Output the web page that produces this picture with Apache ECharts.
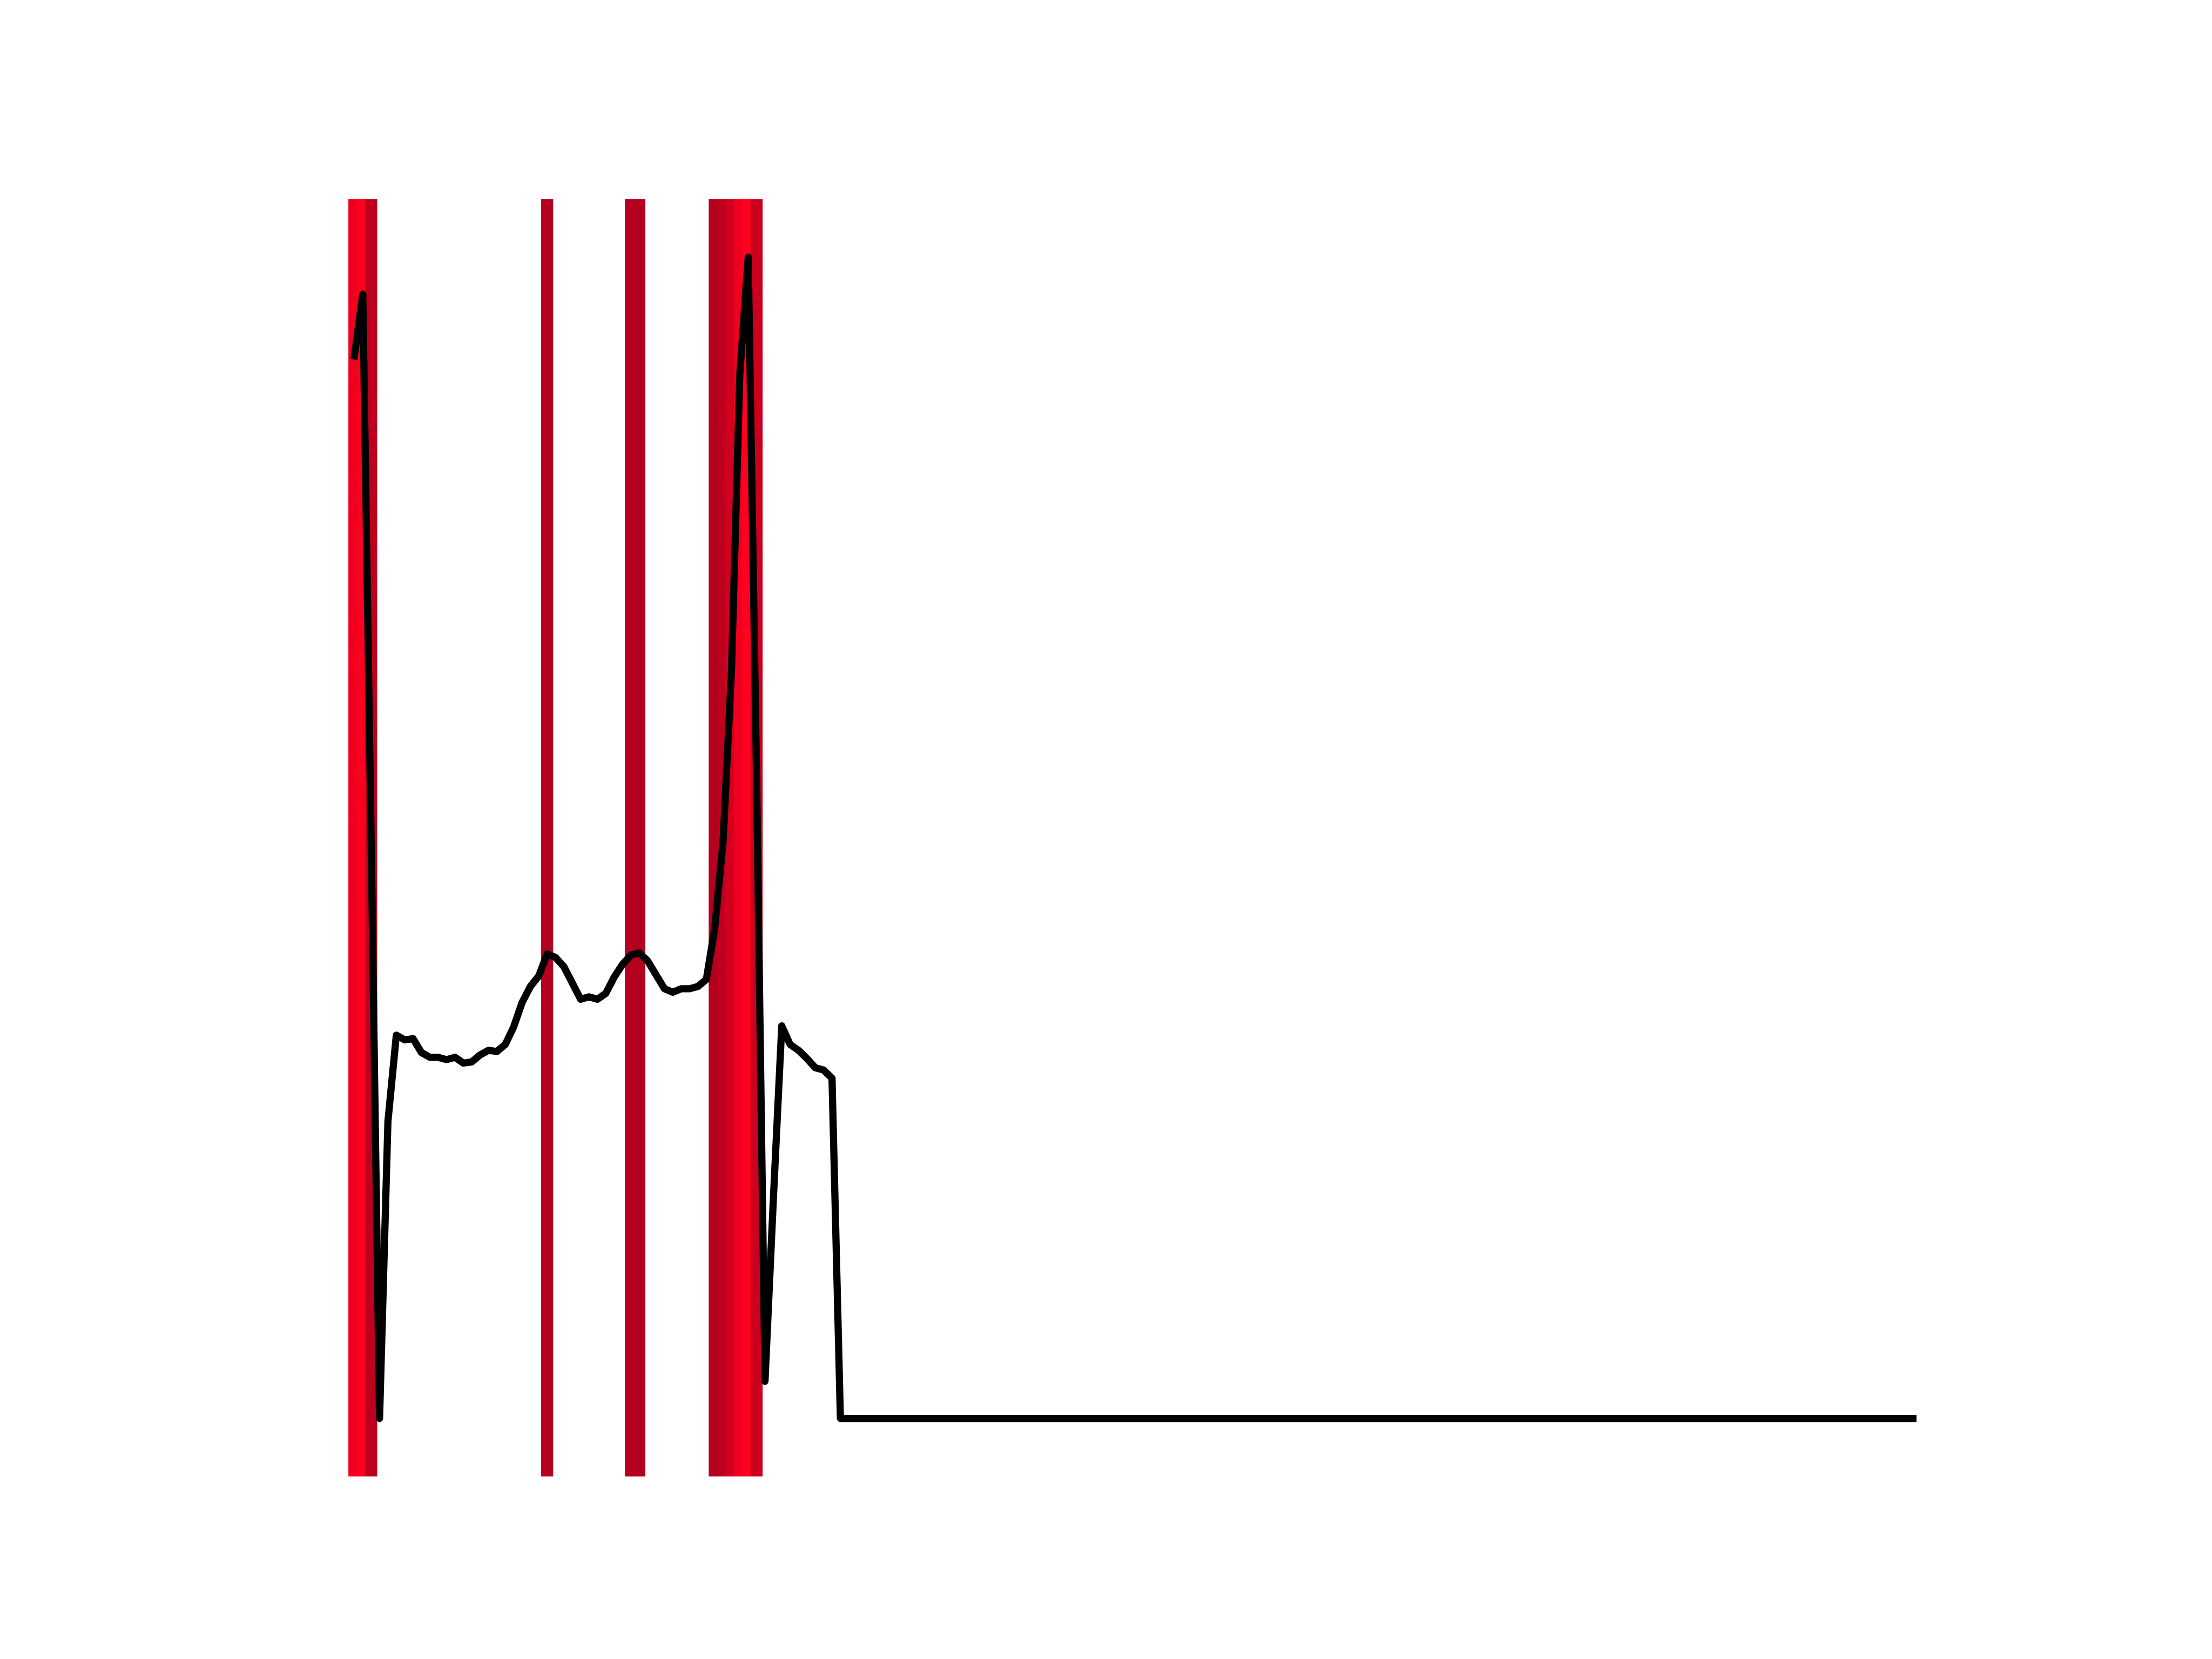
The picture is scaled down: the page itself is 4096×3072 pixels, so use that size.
<!DOCTYPE html>
<html>
<head>
<meta charset="utf-8">
<script src="https://cdn.jsdelivr.net/npm/echarts@6/dist/echarts.min.js"></script>
<style>
  html, body { margin: 0; padding: 0; background: #ffffff; }
  #chart { width: 4096px; height: 3072px; }
</style>
</head>
<body>
<div id="chart"></div>
<script>
// ---- data ----
const seriesValues = [
  91.5, 96.8, 49.6, 0, 25.6, 33.0, 32.6, 32.7, 31.5, 31.1,
  31.1, 30.9, 31.1, 30.6, 30.7, 31.3, 31.7, 31.6, 32.2, 33.7,
  35.8, 37.2, 38.1, 40.0, 39.7, 38.9, 37.5, 36.1, 36.3, 36.1,
  36.6, 38.0, 39.1, 39.9, 40.1, 39.4, 38.2, 37.0, 36.7, 37.0,
  37.0, 37.2, 37.8, 42.2, 49.7, 64.4, 90.0, 100.0, 55.0, 3.2,
  18.9, 33.8, 32.2, 31.7, 31.0, 30.2, 30.0, 29.3, 0, 0,
  0, 0, 0, 0, 0, 0, 0, 0, 0, 0,
  0, 0, 0, 0, 0, 0, 0, 0, 0, 0,
  0, 0, 0, 0, 0, 0, 0, 0, 0, 0,
  0, 0, 0, 0, 0, 0, 0, 0, 0, 0,
  0, 0, 0, 0, 0, 0, 0, 0, 0, 0,
  0, 0, 0, 0, 0, 0, 0, 0, 0, 0,
  0, 0, 0, 0, 0, 0, 0, 0, 0, 0,
  0, 0, 0, 0, 0, 0, 0, 0, 0, 0,
  0, 0, 0, 0, 0, 0, 0, 0, 0, 0,
  0, 0, 0, 0, 0, 0, 0, 0, 0, 0,
  0, 0, 0, 0, 0, 0, 0, 0, 0, 0,
  0, 0, 0, 0, 0, 0, 0, 0, 0, 0,
  0, 0, 0, 0, 0, 0, 0
];
// indices of the highlighted (red band) points
const bandIndices = [0, 1, 2, 23, 33, 34, 43, 44, 45, 46, 47, 48];

// ---- styles ----
const bandColors = ['#F0001E', '#FB001F', '#BE001E', '#B4001E', '#B4001E', '#B4001E',
                    '#B2001E', '#BE001E', '#D0001E', '#EE001E', '#FF0020', '#CC001E'];
const bandHalfWidth = 0.72;

const n = seriesValues.length;
const xMin = -(n - 1) * 0.05, xMax = (n - 1) * 1.05;
const yMin = -5, yMax = 105;

const lineData = seriesValues.map((v, i) => [i, v]);
const bandData = bandIndices.map((idx, k) => ({ value: [idx], itemStyle: { color: bandColors[k] } }));

const chart = echarts.init(document.getElementById('chart'), null, { renderer: 'canvas' });
chart.setOption({
  animation: false,
  backgroundColor: '#ffffff',
  grid: { left: 512, right: 409.6, top: 368.64, bottom: 337.92, containLabel: false },
  xAxis: { type: 'value', min: xMin, max: xMax, show: false },
  yAxis: { type: 'value', min: yMin, max: yMax, show: false },
  series: [
    {
      type: 'custom',
      z: 1,
      data: bandData,
      renderItem: function (params, api) {
        const x = api.value(0);
        const p0 = api.coord([x - bandHalfWidth, yMax]);
        const p1 = api.coord([x + bandHalfWidth, yMin]);
        return {
          type: 'rect',
          shape: { x: p0[0], y: p0[1], width: p1[0] - p0[0], height: p1[1] - p0[1] },
          style: { fill: api.visual('color') }
        };
      }
    },
    {
      type: 'line',
      z: 5,
      data: lineData,
      symbol: 'none',
      lineStyle: { color: '#000000', width: 13.3, cap: 'square', join: 'round' }
    }
  ]
});
</script>
</body>
</html>
